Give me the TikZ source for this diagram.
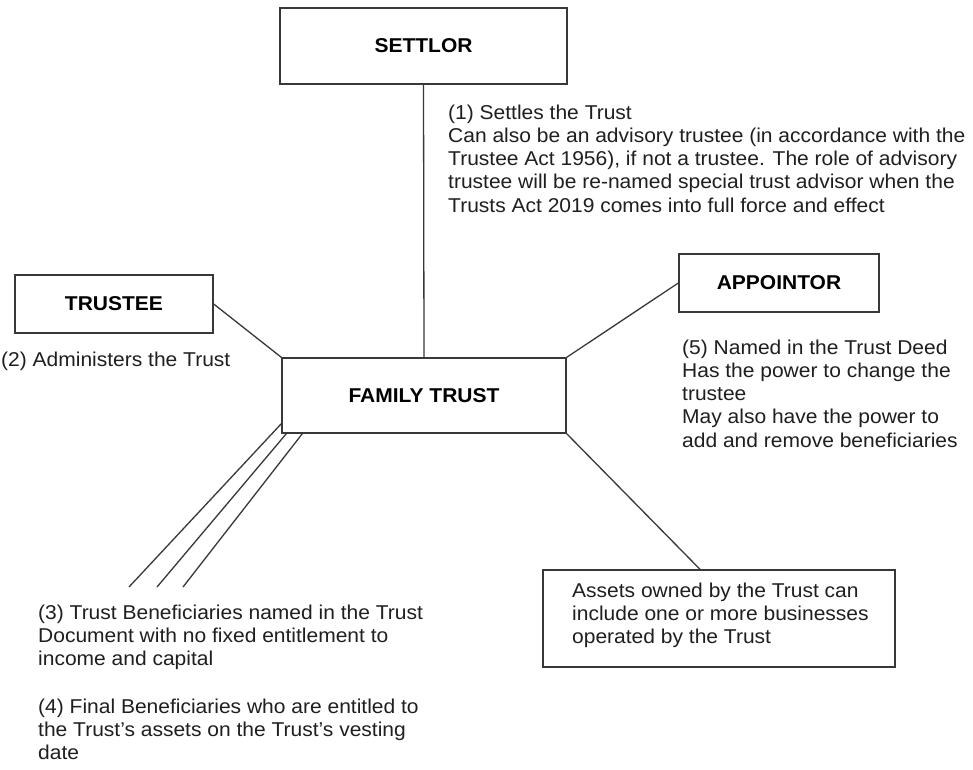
\documentclass[tikz,border=0pt]{standalone}
\usepackage{fontspec}
\setmainfont{Liberation Sans}[FakeStretch=1.05]
\begin{document}
\begin{tikzpicture}[x=1pt,y=-1pt,
  box/.style={draw=black!78,line width=1.4pt,fill=white,inner sep=0pt,font=\fontsize{20}{23.3}\selectfont\bfseries},
  link/.style={draw=black!78,line width=1.3pt},
  note/.style={anchor=base west,align=left,inner sep=0pt,text=black!88,font=\fontsize{20}{23.3}\selectfont}]
\useasboundingbox[fill=white] (0,0) rectangle (973,769);
\node[box,minimum width=287pt,minimum height=76pt] (settlor) at (423.5,46) {SETTLOR};
\node[box,minimum width=198pt,minimum height=58pt] (trustee) at (114,304) {TRUSTEE};
\node[box,minimum width=284pt,minimum height=75pt] (family) at (424,395.5) {FAMILY TRUST};
\node[box,minimum width=200pt,minimum height=58pt] (appointor) at (779,283) {APPOINTOR};
\node[box,minimum width=352pt,minimum height=97pt] (assets) at (719,618.5) {};
\node[note] (assetstext) at (572,643.6) {Assets owned by the Trust can\\include one or more businesses\\operated by the Trust};
\node[note] (settlortext) at (448,212.2) {(1) Settles the Trust\\Can also be an advisory trustee (in accordance with the\\Trustee Act 1956), if not a trustee. The role of advisory\\trustee will be re-named special trust advisor when the\\Trusts Act 2019 comes into full force and effect};
\node[note] (trusteetext) at (1,366) {(2) Administers the Trust};
\node[note] (appointortext) at (682,447.2) {(5) Named in the Trust Deed\\Has the power to change the\\trustee\\May also have the power to\\add and remove beneficiaries};
\node[note] (benef3) at (38,665.6) {(3) Trust Beneficiaries named in the Trust\\Document with no fixed entitlement to\\income and capital};
\node[note] (benef4) at (38,759.6) {(4) Final Beneficiaries who are entitled to\\the Trust's assets on the Trust's vesting\\date};
\coordinate (b1) at (129,587);
\coordinate (b2) at (157,587);
\coordinate (b3) at (183,587);
\draw[link] (settlor.south) -- (family.north);
\draw[link] (trustee.east) -- (family.north west);
\draw[link] (appointor.west) -- (family.north east);
\draw[link] (family.south east) -- ([xshift=-19pt]assets.north);
\draw[link] ([yshift=10pt]family.south west) -- (b1);
\draw[link] ([xshift=5pt]family.south west) -- (b2);
\draw[link] ([xshift=21pt]family.south west) -- (b3);
\end{tikzpicture}
\end{document}
